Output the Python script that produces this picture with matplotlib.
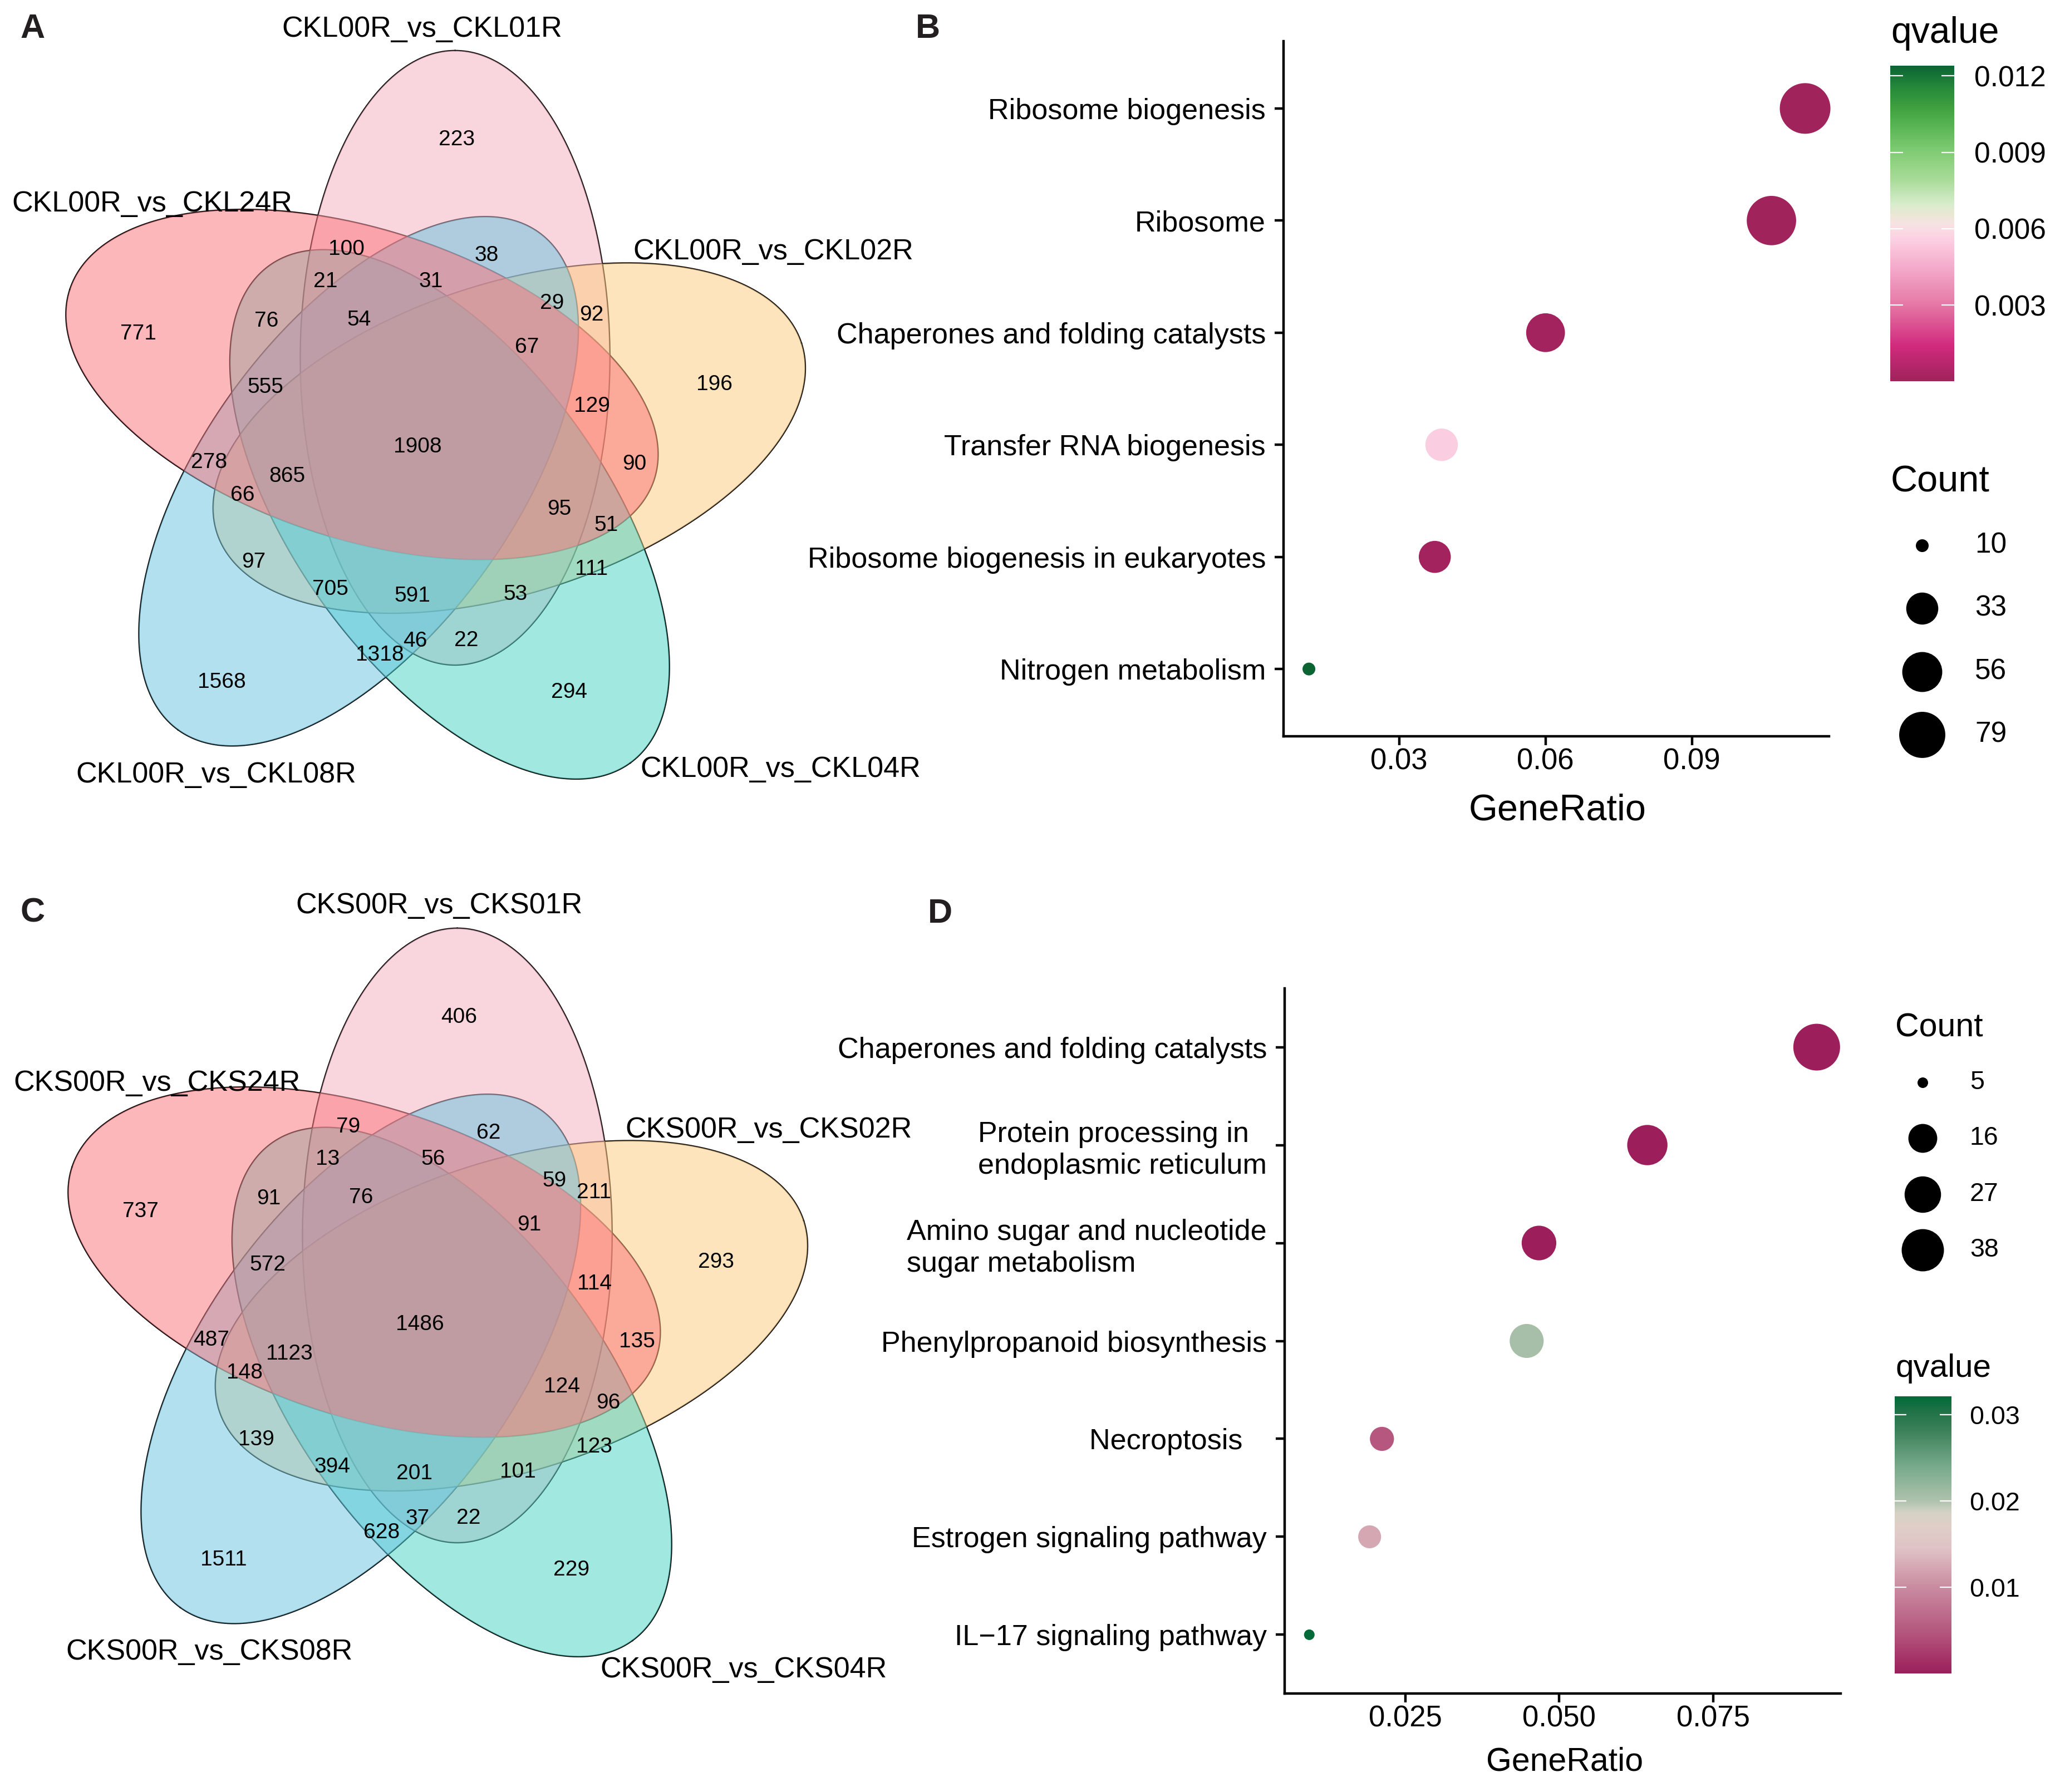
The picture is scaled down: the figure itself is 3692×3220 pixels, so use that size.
import numpy as np
import matplotlib
matplotlib.use("Agg")
import matplotlib.pyplot as plt
from matplotlib.colors import LinearSegmentedColormap, Normalize
from matplotlib.cm import ScalarMappable

plt.rcParams['font.family'] = ['Liberation Sans', 'DejaVu Sans']

W, H, DPI = 3692, 3220, 100
PT = 72.0 / DPI

# ---- data ----
# venn sets in drawing order; region keys use one letter per set:
# P = ..01R, Y = ..02R, T = ..04R, B = ..08R, R = ..24R
venn_a_names = ['CKL00R_vs_CKL01R', 'CKL00R_vs_CKL02R', 'CKL00R_vs_CKL04R', 'CKL00R_vs_CKL08R', 'CKL00R_vs_CKL24R']
venn_c_names = ['CKS00R_vs_CKS01R', 'CKS00R_vs_CKS02R', 'CKS00R_vs_CKS04R', 'CKS00R_vs_CKS08R', 'CKS00R_vs_CKS24R']
venn_regions = ['P', 'R', 'Y', 'B', 'T', 'PYTBR', 'PR', 'PB', 'PTR', 'PBR', 'PYB', 'PY', 'TR', 'PTBR', 'PYBR',
                'TBR', 'PYR', 'BR', 'YTBR', 'YR', 'YBR', 'PYTR', 'YTR', 'YB', 'YT', 'YTB', 'PYTB', 'PYT', 'PTB',
                'PT', 'TB']
venn_a_counts = [223, 771, 196, 1568, 294, 1908, 100, 38, 21, 31, 29, 92, 76, 54, 67, 555, 129, 278, 865, 90,
                 66, 95, 51, 97, 111, 705, 591, 53, 46, 22, 1318]
venn_c_counts = [406, 737, 293, 1511, 229, 1486, 79, 62, 13, 56, 59, 211, 91, 76, 91, 572, 114, 487, 1123, 135,
                 148, 124, 96, 139, 123, 394, 201, 101, 37, 22, 628]
venn_colors = ['#F5AFBF', '#FDCB7D', '#45D3C5', '#67C3E1', '#FB7179']

terms_b = ['Ribosome biogenesis', 'Ribosome', 'Chaperones and folding catalysts', 'Transfer RNA biogenesis',
           'Ribosome biogenesis in eukaryotes', 'Nitrogen metabolism']
ratio_b = [0.1132, 0.1063, 0.0600, 0.0387, 0.0373, 0.0115]
count_b = [99, 93, 52, 34, 33, 10]
qval_b = [0.00001, 0.00002, 0.00012, 0.0055, 0.00015, 0.0124]
size_breaks_b = [10, 33, 56, 79]
q_ticks_b = [0.003, 0.006, 0.009, 0.012]

terms_d = ['Chaperones and folding catalysts', 'Protein processing in\nendoplasmic reticulum',
           'Amino sugar and nucleotide\nsugar metabolism', 'Phenylpropanoid biosynthesis', 'Necroptosis   ',
           'Estrogen signaling pathway', 'IL\u221217 signaling pathway']
ratio_d = [0.0918, 0.0643, 0.0467, 0.0447, 0.0212, 0.0192, 0.0094]
count_d = [48, 34, 24, 23, 11, 10, 5]
qval_d = [0.00001, 0.00003, 0.0001, 0.0205, 0.0048, 0.0122, 0.0321]
size_breaks_d = [5, 16, 27, 38]
q_ticks_d = [0.01, 0.02, 0.03]

cmap_b = LinearSegmentedColormap.from_list('qb', [
    (0.00, '#A0235C'), (0.11, '#D12A7D'), (0.25, '#E67CA8'), (0.35, '#F3A6C8'), (0.45, '#FCD0E2'),
    (0.50, '#F7E3E3'), (0.525, '#ECE7D5'), (0.56, '#D8EDCD'), (0.64, '#A8DB98'), (0.73, '#80CB73'),
    (0.80, '#5DB857'), (0.87, '#3EA03E'), (0.93, '#268A3B'), (1.00, '#0B6432')])
cmap_d = LinearSegmentedColormap.from_list('qd', [
    (0.00, '#9C1F5B'), (0.15, '#B5577E'), (0.31, '#C98BA0'), (0.45, '#DFC2C6'), (0.53, '#E0CEC7'),
    (0.58, '#D4D2C4'), (0.624, '#AEC2AC'), (0.75, '#76A98A'), (0.88, '#3B8058'), (0.95, '#1F7246'),
    (1.00, '#006B38')])

# ---- venn layout (pixels) ----
SEMI_A, SEMI_B, DIST = 278.0, 552.0, 148.0
ROT = [0, 4, 3, 2, 1]  # rotation step (x72 deg) of each set ellipse
# fixed label spot of each region, offset from the venn centre (like VennDiagram's quintuple layout)
LABEL_OFF = {
    'P': (54, -531), 'R': (-519, -182), 'Y': (516, -91), 'B': (-369, 444), 'T': (256, 462),
    'PYTBR': (-17, 21), 'PR': (-145, -334), 'PB': (107, -323), 'PTR': (-182, -276), 'PBR': (7, -276),
    'PYB': (225, -237), 'PY': (296, -216), 'TR': (-288, -205), 'PTBR': (-122, -207), 'PYBR': (180, -158),
    'TBR': (-290, -86), 'PYR': (297, -52), 'BR': (-391, 49), 'YTBR': (-251, 74), 'YR': (373, 52),
    'YBR': (-331, 108), 'PYTR': (238, 133), 'YTR': (322, 162), 'YB': (-311, 228), 'YT': (296, 241),
    'YTB': (-174, 277), 'PYTB': (-26, 289), 'PYT': (159, 286), 'PTB': (-21, 370), 'PT': (71, 369),
    'TB': (-85, 395)}


def ellipse_xy(cx, cy, k, n=600):
    th = np.deg2rad(70 + 72 * k)
    ph = np.deg2rad(90 + 72 * k)
    t = np.linspace(0, 2 * np.pi, n)
    x = DIST * np.cos(th) + SEMI_B * np.cos(t) * np.cos(ph) - SEMI_A * np.sin(t) * np.sin(ph)
    y = DIST * np.sin(th) + SEMI_B * np.cos(t) * np.sin(ph) + SEMI_A * np.sin(t) * np.cos(ph)
    return cx + x, cy - y


def draw_venn(ax, cx, cy, names, name_xy, counts):
    for i, k in enumerate(ROT):
        x, y = ellipse_xy(cx, cy, k)
        ax.plot(x, y, color='black', lw=1.8, zorder=2)
    for i, k in enumerate(ROT):
        x, y = ellipse_xy(cx, cy, k)
        ax.fill(x, y, color=venn_colors[i], alpha=0.5, lw=0, zorder=3)
    for nm, (x, y) in zip(names, name_xy):
        ax.text(x, y, nm, fontsize=37.5, ha='center', va='center', zorder=5)
    for reg, cnt in zip(venn_regions, counts):
        dx, dy = LABEL_OFF[reg]
        ax.text(cx + dx, cy + dy, str(cnt), fontsize=28, ha='center', va='center', zorder=6)


def size_pts(v, vmin, vmax, d_range):
    v = np.asarray(v, float)
    d = d_range[0] + (d_range[1] - d_range[0]) * np.sqrt((v - vmin) / (vmax - vmin))
    return (d * PT) ** 2


fig = plt.figure(figsize=(W / DPI, H / DPI), dpi=DPI)
bg = fig.add_axes([0, 0, 1, 1])
bg.set_xlim(0, W)
bg.set_ylim(H, 0)
bg.axis('off')

draw_venn(bg, 767, 782, venn_a_names,
          [(758, 53), (1389, 452), (1402, 1382), (388, 1392), (273, 366)], venn_a_counts)
draw_venn(bg, 771, 2359, venn_c_names,
          [(789, 1627), (1381, 2030), (1336, 3000), (376, 2968), (282, 1946)], venn_c_counts)

for lab, (x, y) in zip('ABCD', [(59, 53), (1667, 52), (59, 1641), (1689, 1642)]):
    bg.text(x, y, lab, fontsize=44, fontweight='bold', ha='center', va='center', color='#231F20')


def dot_panel(box, terms, ratio, count, qval, cmap, xlim, xticks, xticklabels, d_range):
    l, t, r, b = box
    ax = fig.add_axes([l / W, 1 - b / H, (r - l) / W, (b - t) / H])
    n = len(terms)
    y = np.arange(n, 0, -1)
    cnt = np.asarray(count, float)
    norm = Normalize(min(qval), max(qval))
    ax.scatter(ratio, y, s=size_pts(cnt, cnt.min(), cnt.max(), d_range), c=qval, cmap=cmap, norm=norm,
               linewidths=0, zorder=3, clip_on=False)
    ax.set_xlim(xlim)
    ax.set_ylim(0.4, n + 0.6)
    ax.set_xticks(xticks)
    ax.set_xticklabels(xticklabels)
    ax.set_yticks(y)
    ax.set_yticklabels(terms)
    for lab in ax.get_yticklabels():
        lab.set_multialignment('left')
    ax.spines['top'].set_visible(False)
    ax.spines['right'].set_visible(False)
    for s in ['left', 'bottom']:
        ax.spines[s].set_linewidth(3.2)
    ax.tick_params(length=11.5, width=3.2, labelsize=38, colors='black')
    ax.tick_params(axis='y', labelsize=37.5, pad=11.5)
    ax.tick_params(axis='x', pad=3)
    ax.patch.set_alpha(0)
    return cnt, norm


def colorbar(box, norm, cmap, ticks, fs, tlen, pad):
    l, t, r, b = box
    cax = fig.add_axes([l / W, 1 - b / H, (r - l) / W, (b - t) / H])
    cb = fig.colorbar(ScalarMappable(norm=norm, cmap=cmap), cax=cax)
    cb.outline.set_visible(False)
    cb.set_ticks(ticks)
    cb.set_ticklabels([str(v) for v in ticks])
    cax.yaxis.set_ticks_position('both')
    cax.tick_params(axis='y', direction='in', length=tlen, width=1.6, color='white', labelsize=fs,
                    labelcolor='black', pad=pad, labelleft=False, labelright=True)


# ---- panel B ----
cnt_b, norm_b = dot_panel((2306, 74, 3286, 1323), terms_b, ratio_b, count_b, qval_b, cmap_b,
                          (0.0063, 0.1181), [0.03, 0.06, 0.09], ['0.03', '0.06', '0.09'], (23, 91))
bg.text(2798, 1473, 'GeneRatio', fontsize=48, ha='center', va='baseline')
bg.text(3397, 77, 'qvalue', fontsize=47.5, ha='left', va='baseline')
colorbar((3396, 118, 3511, 685), norm_b, cmap_b, q_ticks_b, 37, 16.5, 26)
bg.text(3397, 883, 'Count', fontsize=48, ha='left', va='baseline')
for v, y in zip(size_breaks_b, [980, 1093, 1207, 1320]):
    bg.scatter([3453], [y], s=size_pts(v, cnt_b.min(), cnt_b.max(), (23, 91)), color='black', lw=0)
    bg.text(3548, y, str(v), fontsize=37, ha='left', va='center')

# ---- panel D ----
cnt_d, norm_d = dot_panel((2308, 1776, 3307, 3043), terms_d, ratio_d, count_d, qval_d, cmap_d,
                          (0.0054, 0.0957), [0.025, 0.050, 0.075], ['0.025', '0.050', '0.075'], (19, 84))
bg.text(2811, 3181, 'GeneRatio', fontsize=42.5, ha='center', va='baseline')
bg.text(3405, 1862, 'Count', fontsize=42.5, ha='left', va='baseline')
for v, y in zip(size_breaks_d, [1945, 2045, 2146, 2246]):
    bg.scatter([3454], [y], s=size_pts(v, cnt_d.min(), cnt_d.max(), (19, 84)), color='black', lw=0)
    bg.text(3539, y, str(v), fontsize=33.5, ha='left', va='center')
bg.text(3405, 2474, 'qvalue', fontsize=42, ha='left', va='baseline')
colorbar((3404, 2509, 3506, 3007), norm_d, cmap_d, q_ticks_d, 33.5, 15, 23)

fig.savefig('out.png', dpi=DPI, facecolor='white')
